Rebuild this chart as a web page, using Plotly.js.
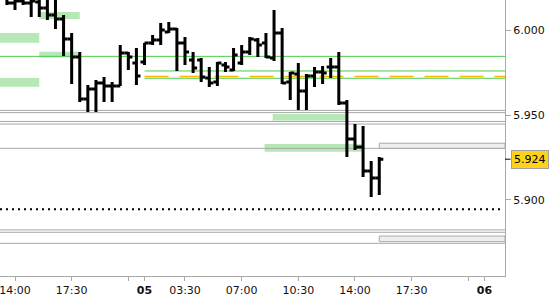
<!DOCTYPE html>
<html>
<head>
<meta charset="utf-8">
<script src="https://cdn.plot.ly/plotly-3.0.1.min.js"></script>
<style>html,body{margin:0;padding:0;background:#fff;}#chart{width:550px;height:300px;}</style>
</head>
<body>
<div id="chart"></div>
<script>
// ---- data ----
const times = [
  '04 13:30','04 14:00','04 14:30','04 15:00','04 15:30','04 16:00','04 16:30','04 17:00','04 17:30',
  '04 18:00','04 18:30','04 19:00','04 19:30','04 20:00','04 20:30','04 21:00','04 21:30',
  '05 01:00','05 01:30','05 02:00','05 02:30','05 03:00','05 03:30','05 04:00','05 04:30','05 05:00',
  '05 05:30','05 06:00','05 06:30','05 07:00','05 07:30','05 08:00','05 08:30','05 09:00','05 09:30',
  '05 10:00','05 10:30','05 11:00','05 11:30','05 12:00','05 12:30','05 13:00','05 13:30','05 14:00',
  '05 14:30','05 15:00','05 15:30'
];
const open = [
  6.0194,6.0159,6.0171,6.0159,6.0165,6.0129,6.0088,6.0065,5.9947,
  5.9841,5.9594,5.9653,5.9688,5.9671,5.9671,5.9865,5.9806,
  5.9812,5.9924,5.9941,5.9988,6.0006,5.9924,5.9824,5.9824,5.9718,
  5.9694,5.9794,5.9765,5.9806,5.9871,5.9941,5.9924,5.9835,5.9982,
  5.9694,5.9741,5.9641,5.9729,5.9753,5.9782,5.9782,5.9571,5.9359,
  5.9312,5.9171,5.9129
];
const high = [
  6.0235,6.0224,6.0212,6.0200,6.0194,6.0188,6.0182,6.0088,5.9982,
  5.9871,5.9676,5.9706,5.9724,5.9694,5.9912,5.9871,5.9894,
  5.9924,5.9971,6.0041,6.0047,6.0012,5.9959,5.9871,5.9835,5.9782,
  5.9812,5.9812,5.9894,5.9912,5.9959,5.9953,5.9982,6.0118,6.0012,
  5.9753,5.9806,5.9741,5.9782,5.9788,5.9835,5.9871,5.9588,5.9447,
  5.9435,5.9229,5.9253
];
const low = [
  6.0147,6.0118,6.0147,6.0076,6.0076,6.0059,6.0006,5.9847,5.9682,
  5.9576,5.9518,5.9518,5.9576,5.9576,5.9671,5.9765,5.9676,
  5.9794,5.9912,5.9912,5.9982,5.9759,5.9794,5.9747,5.9694,5.9665,
  5.9671,5.9753,5.9759,5.9794,5.9853,5.9841,5.9835,5.9818,5.9682,
  5.9588,5.9529,5.9529,5.9665,5.9682,5.9718,5.9559,5.9253,5.9294,
  5.9135,5.9018,5.9029
];
const close = [
  6.0159,6.0171,6.0159,6.0171,6.0129,6.0088,6.0065,5.9947,5.9841,
  5.9594,5.9653,5.9688,5.9671,5.9671,5.9865,5.9841,5.9729,
  5.9924,5.9941,6.0000,6.0006,5.9924,5.9871,5.9776,5.9724,5.9688,
  5.9806,5.9782,5.9853,5.9871,5.9947,5.9912,5.9841,5.9982,5.9688,
  5.9747,5.9641,5.9729,5.9753,5.9747,5.9782,5.9571,5.9359,5.9312,
  5.9171,5.9129,5.9240
];
const lastPrice = 5.924;

const xTickTimes = ['04 14:00','04 17:30','04 21:00','05 01:00','05 03:30','05 07:00','05 10:30','05 14:00','05 17:30','05 21:00','06 01:00'];
const xTickText  = ['14:00','17:30','','<b>05</b>','03:30','07:00','10:30','14:00','17:30','','<b>06</b>'];
const yTickVals  = [5.900, 5.950, 6.000];
const yTickText  = ['5.900','5.950','6.000'];

// support / resistance zones (light green)
const zoneStart = ['04 13:00','04 15:30','04 15:30','04 13:00','05 08:55','05 08:25'];
const zoneEnd   = ['04 15:30','04 18:00','04 18:00','04 15:30','05 13:25','05 14:25'];
const zoneHigh  = [5.9982, 6.0106, 5.9872, 5.9718, 5.9506, 5.9329];
const zoneLow   = [5.9925, 6.0065, 5.9838, 5.9666, 5.9467, 5.9284];

// horizontal levels
const greenFullLevels    = [5.9845];
const sessionStart       = '05 01:00';
const greenSessionLevels = [5.9759, 5.9716];
const orangeSessionLevels= [5.9727];
const grayLevels  = [5.9527, 5.9514, 5.9462, 5.9447, 5.9304, 5.8824, 5.8810, 5.8745];
const dottedLevels = [5.8945];
const grayBoxStart = '05 15:30';
const grayBoxHigh  = [5.9334, 5.8788];
const grayBoxLow   = [5.9304, 5.8755];

// ---- mapping of session time to continuous axis position ----
function toPos(t) {
  const [d, hm] = t.split(' ');
  const [h, m] = hm.split(':').map(Number);
  const hh = h + m / 60;
  if (d === '04') return hh;
  if (d === '05') return hh + 21;
  return hh + 42;
}

const xMin = 13.0735, xMax = 44.266;
const yMin = 5.85529, yMax = 6.017647;

const x = times.map(toPos);

const trace = {
  type: 'ohlc',
  x: x, open: open, high: high, low: low, close: close,
  tickwidth: 0.5,
  increasing: {line: {color: '#000000', width: 3}},
  decreasing: {line: {color: '#000000', width: 3}},
  hoverinfo: 'skip',
  showlegend: false
};

const shapes = [];
zoneStart.forEach((s, i) => {
  shapes.push({type: 'rect', xref: 'x', yref: 'y', layer: 'below',
    x0: toPos(s), x1: toPos(zoneEnd[i]), y0: zoneLow[i], y1: zoneHigh[i],
    fillcolor: '#b5e8b5', line: {width: 0}});
});
grayLevels.forEach(v => shapes.push({type: 'line', xref: 'x', yref: 'y', layer: 'below',
  x0: xMin, x1: xMax, y0: v, y1: v, line: {color: '#a8a8a8', width: 1}}));
grayBoxHigh.forEach((v, i) => shapes.push({type: 'rect', xref: 'x', yref: 'y', layer: 'below',
  x0: toPos(grayBoxStart), x1: xMax, y0: grayBoxLow[i], y1: v,
  fillcolor: '#eeeeee', line: {color: '#a8a8a8', width: 1}}));
greenFullLevels.forEach(v => shapes.push({type: 'line', xref: 'x', yref: 'y', layer: 'below',
  x0: xMin, x1: xMax, y0: v, y1: v, line: {color: '#4ccc4c', width: 1}}));
greenSessionLevels.forEach(v => shapes.push({type: 'line', xref: 'x', yref: 'y', layer: 'below',
  x0: toPos(sessionStart), x1: xMax, y0: v, y1: v, line: {color: '#4ccc4c', width: 1}}));
orangeSessionLevels.forEach(v => shapes.push({type: 'line', xref: 'x', yref: 'y', layer: 'below',
  x0: toPos(sessionStart), x1: xMax, y0: v, y1: v, line: {color: '#ffb400', width: 1.5, dash: '24px,11px'}}));
dottedLevels.forEach(v => shapes.push({type: 'line', xref: 'x', yref: 'y', layer: 'below',
  x0: xMin, x1: xMax - 0.3, y0: v, y1: v, line: {color: '#000000', width: 2, dash: '2px,4px'}}));
// tick mark for last price
shapes.push({type: 'line', xref: 'paper', yref: 'y', x0: 1, x1: 1.011, y0: lastPrice, y1: lastPrice,
  line: {color: '#000000', width: 1}});

const font = {family: 'DejaVu Sans, Verdana, sans-serif', size: 11, color: '#111111'};

const layout = {
  width: 550, height: 300,
  margin: {l: 0, r: 45, t: 0, b: 24, pad: 0},
  paper_bgcolor: '#ffffff', plot_bgcolor: '#ffffff',
  showlegend: false,
  font: font,
  xaxis: {
    type: 'linear', range: [xMin, xMax],
    tickmode: 'array', tickvals: xTickTimes.map(toPos), ticktext: xTickText,
    showgrid: false, zeroline: false, showline: true, linecolor: '#a8a8a8', linewidth: 1,
    ticks: 'outside', ticklen: 4, tickcolor: '#a8a8a8', tickfont: font,
    ticklabeloverflow: 'allow',
    rangeslider: {visible: false}, fixedrange: true
  },
  yaxis: {
    side: 'right', range: [yMin, yMax],
    tickmode: 'array', tickvals: yTickVals, ticktext: yTickText,
    showgrid: false, zeroline: false, showline: true, linecolor: '#a8a8a8', linewidth: 1,
    ticks: 'outside', ticklen: 5, tickcolor: '#a8a8a8', tickfont: font, fixedrange: true
  },
  shapes: shapes,
  annotations: [{
    xref: 'paper', yref: 'y', x: 1, y: lastPrice, xanchor: 'left', yanchor: 'middle', xshift: 6,
    text: lastPrice.toFixed(3), showarrow: false,
    bgcolor: '#ffd21a', bordercolor: '#a0a0a0', borderwidth: 1, borderpad: 2,
    font: {family: 'DejaVu Sans, Verdana, sans-serif', size: 11, color: '#000000'}
  }]
};

Plotly.newPlot('chart', [trace], layout, {displayModeBar: false, staticPlot: true});
</script>
</body>
</html>
